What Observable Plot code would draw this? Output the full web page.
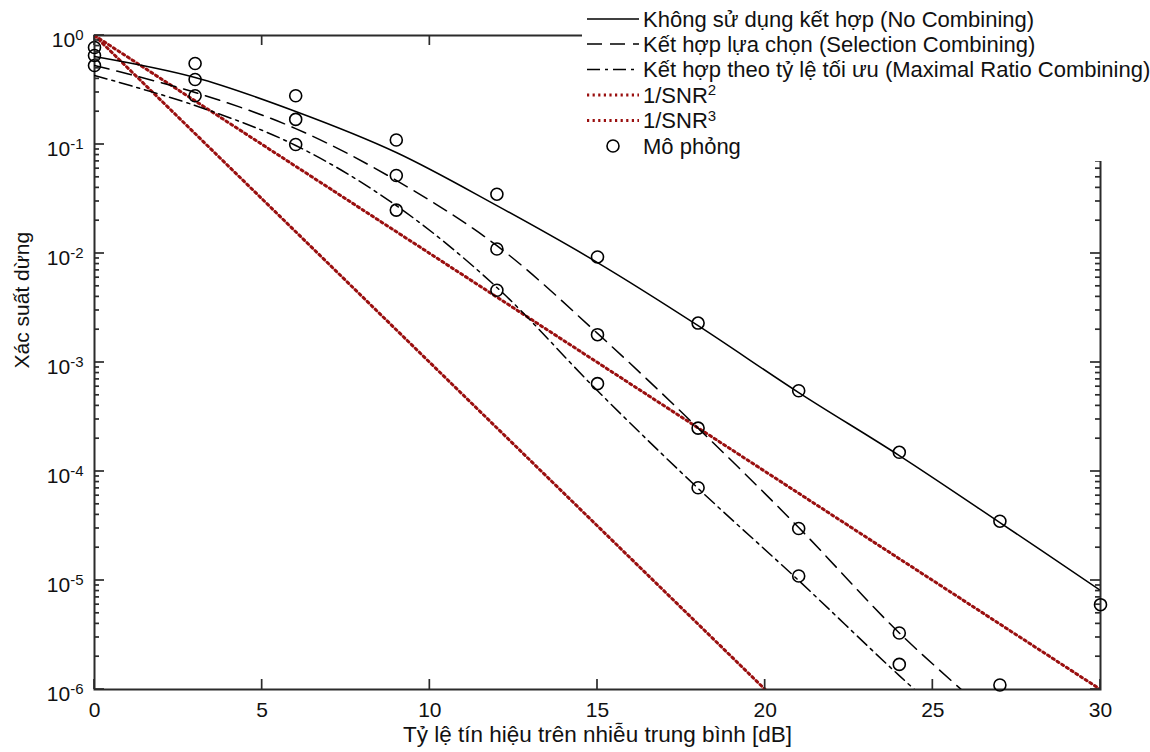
<!DOCTYPE html>
<html><head><meta charset="utf-8">
<script src="https://cdn.jsdelivr.net/npm/d3@7"></script>
<script src="https://cdn.jsdelivr.net/npm/@observablehq/plot@0.6"></script>
<style>
body{margin:0;background:#fff;}
#wrap{position:relative;width:1150px;height:752px;font-family:"Liberation Sans",Arial,sans-serif;overflow:hidden;}
#legend{position:absolute;left:582px;top:0;width:568px;height:161px;background:#fff;}
</style></head><body><div id="wrap"><div id="chart"></div><div id="legend"></div></div>
<script>
// ---- data ----
const snrTheory = [0, 3, 6, 9, 12, 15, 18, 21, 24, 27, 30];
const noCombining = [0.642, 0.412, 0.201, 0.0845, 0.0275, 0.00826, 0.00218, 5.3e-4, 1.40e-4, 3.4e-5, 8.1e-6];
const snrDiv = [0, 3, 6, 9, 12, 15, 18, 21, 24, 27];
const selection = [0.531, 0.300, 0.140, 0.0468, 0.0118, 0.00185, 2.5e-4, 3.06e-5, 3.3e-6, 4.9e-7];
const maximalRatio = [0.430, 0.228, 0.098, 0.0275, 0.00488, 5.5e-4, 7.0e-5, 1.0e-5, 1.34e-6, 2.0e-7];
const snr2X = [0, 30];
const snr2Y = [1, 1e-6];
const snr3X = [0, 20];
const snr3Y = [1, 1e-6];
const simX = [0, 0, 0, 3, 3, 3, 6, 6, 6, 9, 9, 9, 12, 12, 12, 15, 15, 15, 18, 18, 18, 21, 21, 21, 24, 24, 24, 27, 27, 30];
const simY = [0.776, 0.655, 0.53, 0.553, 0.395, 0.28, 0.28, 0.17, 0.10, 0.11, 0.052, 0.025,
              0.035, 0.011, 0.0046, 0.0093, 0.0018, 0.00064, 0.0023, 0.00025, 7.1e-5,
              5.5e-4, 3.0e-5, 1.1e-5, 1.5e-4, 3.3e-6, 1.7e-6, 3.5e-5, 1.1e-6, 6.0e-6];
const xTicks = [0, 5, 10, 15, 20, 25, 30];
const yTicks = [1e-6, 1e-5, 1e-4, 1e-3, 1e-2, 1e-1, 1];
const yExponents = ["-6", "-5", "-4", "-3", "-2", "-1", "0"];
const minorMultipliers = [2, 3, 4, 5, 6, 7, 8, 9];
const legendLabels = [
  "Không sử dụng kết hợp (No Combining)",
  "Kết hợp lựa chọn (Selection Combining)",
  "Kết hợp theo tỷ lệ tối ưu (Maximal Ratio Combining)",
  "1/SNR|2",
  "1/SNR|3",
  "Mô phỏng"
];
const xTitle = "Tỷ lệ tín hiệu trên nhiễu trung bình [dB]";
const yTitle = "Xác suất dừng";

// ---- styles / layout ----
const FONT = "Liberation Sans, Arial, Helvetica, sans-serif";
const RED = "#9a0f0f";
const AX = "#2b2b2b";
const DASH = "15 8";
const DASHDOT = "13 5 3 5";
const DOT = "2.2 3.4";
const W = 1150, H = 752, ML = 94, MR = 50, MT = 35, MB = 63;
const MAJOR = 10, MINOR = 5;

const yMinor = yTicks.slice(0, -1).flatMap(t => minorMultipliers.map(m => m * t));

const chart = Plot.plot({
  width: W, height: H,
  marginLeft: ML, marginRight: MR, marginTop: MT, marginBottom: MB,
  x: {domain: [0, 30]},
  y: {type: "log", domain: [1e-6, 1]},
  style: {fontFamily: FONT, background: "#fff", color: "#000", overflow: "visible"},
  marks: [
    Plot.frame({stroke: AX, strokeWidth: 2}),
    Plot.axisX({ticks: xTicks, tickSize: 0, tickPadding: 13, tickFormat: d => String(d), label: null, fontSize: 21, fill: "#111"}),
    Plot.axisY({ticks: yTicks, tickSize: 0, tickPadding: 11, dy: 5, tickFormat: d => "10^" + yExponents[yTicks.indexOf(d)], label: null, fontSize: 21, fill: "#111"}),
    Plot.text([xTitle], {text: d => d, frameAnchor: "bottom", dy: 52, fontSize: 22.5, fill: "#111"}),
    Plot.text([yTitle], {text: d => d, frameAnchor: "left", dx: -72, dy: 6, rotate: -90, fontSize: 21, fill: "#111"}),
    // data
    Plot.line(snr2Y, {x: (d, i) => snr2X[i], y: d => d, stroke: RED, strokeWidth: 3, strokeDasharray: DOT, clip: true}),
    Plot.line(snr3Y, {x: (d, i) => snr3X[i], y: d => d, stroke: RED, strokeWidth: 3, strokeDasharray: DOT, clip: true}),
    Plot.line(noCombining, {x: (d, i) => snrTheory[i], y: d => d, stroke: "#000", strokeWidth: 1.5, curve: "catmull-rom", clip: true}),
    Plot.line(selection, {x: (d, i) => snrDiv[i], y: d => d, stroke: "#000", strokeWidth: 1.5, strokeDasharray: DASH, curve: "catmull-rom", clip: true}),
    Plot.line(maximalRatio, {x: (d, i) => snrDiv[i], y: d => d, stroke: "#000", strokeWidth: 1.5, strokeDasharray: DASHDOT, curve: "catmull-rom", clip: true}),
    Plot.dot(simY, {x: (d, i) => simX[i], y: d => d, r: 6, stroke: "#000", strokeWidth: 1.6, fill: "none"})
  ]
});
document.getElementById("chart").appendChild(chart);

// inward MATLAB-style ticks, positioned with Plot's own scales
try {
  const sx = chart.scale("x"), sy = chart.scale("y");
  const pLeft = sx.apply(0), pRight = sx.apply(30), pTop = sy.apply(1), pBottom = sy.apply(1e-6);
  const tg = d3.select(chart).append("g").attr("stroke", AX).attr("stroke-width", 1.7);
  const hTick = (v, len) => {
    const yy = sy.apply(v);
    tg.append("line").attr("x1", pLeft).attr("x2", pLeft + len).attr("y1", yy).attr("y2", yy);
    tg.append("line").attr("x1", pRight).attr("x2", pRight - len).attr("y1", yy).attr("y2", yy);
  };
  yTicks.forEach(v => hTick(v, MAJOR));
  yMinor.forEach(v => hTick(v, MINOR));
  xTicks.forEach(v => {
    const xx = sx.apply(v);
    tg.append("line").attr("x1", xx).attr("x2", xx).attr("y1", pBottom).attr("y2", pBottom - MAJOR);
    tg.append("line").attr("x1", xx).attr("x2", xx).attr("y1", pTop).attr("y2", pTop + MAJOR);
  });
} catch (e) { console.error(e); }

// superscripts on y tick labels
d3.select(chart).selectAll('g[aria-label="y-axis tick label"] text').each(function() {
  const t = d3.select(this);
  const parts = t.text().split("^");
  t.text(null);
  t.append("tspan").text(parts[0]);
  t.append("tspan").attr("dy", "-0.5em").attr("font-size", "15px").text(parts[1]);
});

// legend
const lg = d3.select("#legend").append("svg").attr("width", 568).attr("height", 161)
  .style("font-family", FONT);
const rowsY = [19, 44, 69.5, 95, 120.5, 146];
const styles = [
  {stroke: "#000", dash: null, w: 1.5},
  {stroke: "#000", dash: DASH, w: 1.5},
  {stroke: "#000", dash: DASHDOT, w: 1.5},
  {stroke: RED, dash: DOT, w: 3},
  {stroke: RED, dash: DOT, w: 3},
  null
];
legendLabels.forEach((lab, i) => {
  const yy = rowsY[i];
  const st = styles[i];
  if (st) {
    lg.append("line").attr("x1", 5).attr("x2", 57).attr("y1", yy).attr("y2", yy)
      .attr("stroke", st.stroke).attr("stroke-width", st.w).attr("stroke-dasharray", st.dash);
  } else {
    lg.append("circle").attr("cx", 31).attr("cy", yy).attr("r", 6).attr("fill", "none")
      .attr("stroke", "#000").attr("stroke-width", 1.6);
  }
  const t = lg.append("text").attr("x", 61).attr("y", yy).attr("dy", "0.35em")
    .attr("font-size", 22).attr("fill", "#111");
  const parts = lab.split("|");
  t.append("tspan").text(parts[0]);
  if (parts[1]) t.append("tspan").attr("dy", "-0.5em").attr("font-size", "15px").text(parts[1]);
});
</script></body></html>
